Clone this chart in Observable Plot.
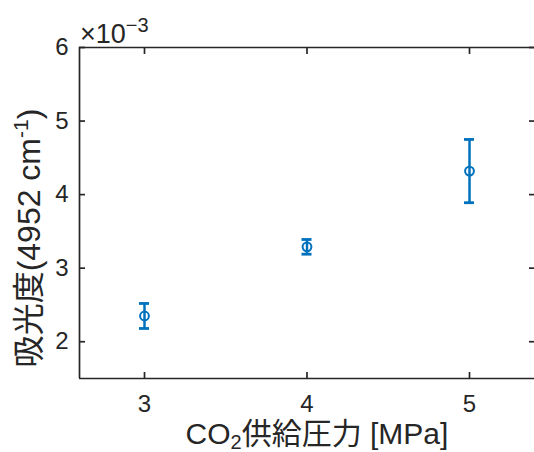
<!DOCTYPE html>
<html>
<head>
<meta charset="utf-8">
<script src="https://cdn.jsdelivr.net/npm/d3@7"></script>
<script src="https://cdn.jsdelivr.net/npm/@observablehq/plot@0.6"></script>
<style>
  html, body { margin: 0; padding: 0; background: #fff; overflow: hidden; }
  #chart svg { display: block; }
</style>
</head>
<body>
<div id="chart"></div>
<script>
// Data (absorbance ×10^-3)
const pressures = [3, 4, 5];              // CO2 supply pressure [MPa]
const absorbance = [2.35, 3.29, 4.32];    // mean, ×10^-3
const errors = [0.17, 0.10, 0.43];        // error bar half-length, ×10^-3
const xTicks = [3, 4, 5];
const yTicks = [2, 3, 4, 5, 6];
const xDomain = [2.6, 5.4];
const yDomain = [1.5, 6];

const data = pressures.map((p, i) => ({x: p, y: absorbance[i], e: errors[i]}));

const blue = "#0072BD";
const ink = "#262626";
const font = "'Liberation Sans', Arial, 'Noto Sans CJK JP', sans-serif";

const chart = Plot.plot({
  width: 534,
  height: 452,
  marginLeft: 79,
  marginRight: 0,
  marginTop: 47,
  marginBottom: 74,
  style: {fontFamily: font, color: ink, background: "#fff"},
  x: {domain: xDomain},
  y: {domain: yDomain},
  marks: [
    // frame
    Plot.ruleY([yDomain[0], yDomain[1]], {stroke: ink, strokeWidth: 1.7}),
    Plot.ruleX([xDomain[0]], {stroke: ink, strokeWidth: 1.7}),
    // axes with inward ticks
    Plot.axisX({anchor: "bottom", ticks: xTicks, tickSize: -6, tickPadding: 22, fontSize: 24, tickFormat: d => String(d), stroke: ink, fill: ink, strokeWidth: 1.7, label: null}),
    Plot.axisX({anchor: "top", ticks: xTicks, tickSize: -6, tickFormat: () => "", stroke: ink, strokeWidth: 1.7, label: null}),
    Plot.axisY({anchor: "left", ticks: yTicks, tickSize: -6, tickPadding: 17, fontSize: 24, tickFormat: d => String(d), stroke: ink, fill: ink, strokeWidth: 1.7, label: null}),
    Plot.axisY({anchor: "right", ticks: yTicks, tickSize: -6, tickFormat: () => "", stroke: ink, strokeWidth: 1.7, label: null}),
    // error bars
    Plot.ruleX(data, {x: "x", y1: d => d.y - d.e, y2: d => d.y + d.e, stroke: blue, strokeWidth: 2.5}),
    Plot.ruleY(data, {y: d => d.y + d.e, x1: "x", x2: "x", insetLeft: -5, insetRight: -5, stroke: blue, strokeWidth: 2.8}),
    Plot.ruleY(data, {y: d => d.y - d.e, x1: "x", x2: "x", insetLeft: -5, insetRight: -5, stroke: blue, strokeWidth: 2.8}),
    // markers
    Plot.dot(data, {x: "x", y: "y", r: 4.4, stroke: blue, strokeWidth: 2, fill: "none"})
  ]
});

document.getElementById("chart").appendChild(chart);

const svg = d3.select(chart);
// remove empty tick labels from mirrored axes
svg.selectAll("text").filter(function() { return this.textContent === ""; }).remove();

// multiplier label
const mult = svg.append("text")
  .attr("x", 80).attr("y", 43)
  .attr("text-anchor", "start")
  .attr("fill", ink)
  .style("font-family", font)
  .style("font-size", "27px");
mult.append("tspan").text("×10");
mult.append("tspan").attr("dy", -11).style("font-size", "20px").text("−3");

// x label
const xl = svg.append("text")
  .attr("x", 317).attr("y", 444)
  .attr("text-anchor", "middle")
  .attr("fill", ink)
  .style("font-family", font)
  .style("font-size", "30px");
xl.append("tspan").text("CO");
xl.append("tspan").attr("dy", 5).style("font-size", "20px").text("2");
xl.append("tspan").attr("dy", -5).text("供給圧力 [MPa]");

// y label
const yl = svg.append("text")
  .attr("transform", "translate(40,238) rotate(-90)")
  .attr("text-anchor", "middle")
  .attr("fill", ink)
  .style("font-family", font)
  .style("font-size", "32px");
yl.append("tspan").text("吸光度(4952 cm");
yl.append("tspan").attr("dy", -12).style("font-size", "21px").text("-1");
yl.append("tspan").attr("dy", 12).text(")");
</script>
</body>
</html>
